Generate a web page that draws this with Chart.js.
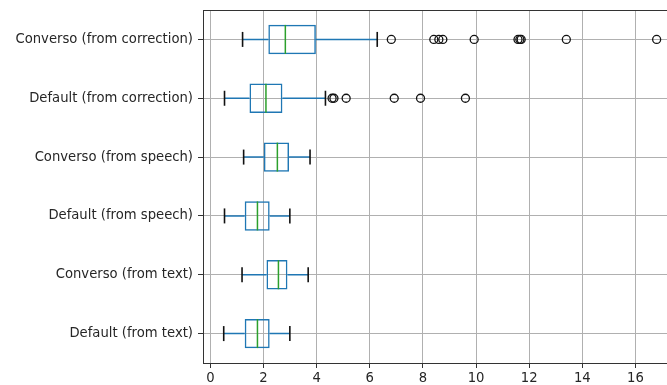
<!DOCTYPE html>
<html>
<head>
<meta charset="utf-8">
<script src="https://cdn.jsdelivr.net/npm/chart.js@4.4.1/dist/chart.umd.min.js"></script>
<style>
  html, body { margin: 0; padding: 0; background: #fff; overflow: hidden; }
  #wrap { width: 684px; height: 385px; }
</style>
</head>
<body>
<div id="wrap"><canvas id="chart"></canvas></div>
<script>
// box statistics, top row first
const categories = [
    'Converso (from correction)',
    'Default (from correction)',
    'Converso (from speech)',
    'Default (from speech)',
    'Converso (from text)',
    'Default (from text)'
];
const whiskerLow  = [1.21, 0.53, 1.25, 0.53, 1.19, 0.50];
const q1          = [2.18, 1.47, 2.01, 1.29, 2.11, 1.29];
const medians     = [2.82, 2.09, 2.52, 1.77, 2.56, 1.77];
const q3          = [3.97, 2.71, 2.96, 2.23, 2.90, 2.23];
const whiskerHigh = [6.28, 4.33, 3.75, 2.99, 3.68, 2.99];
const outliers = [
    [6.81, 8.41, 8.60, 8.75, 9.93, 11.58, 11.65, 11.70, 13.40, 16.80],
    [4.58, 4.65, 5.11, 6.92, 7.91, 9.60],
    [], [], [], []
];
const xTickValues = [0, 2, 4, 6, 8, 10, 12, 14, 16];

const BLUE = '#1f77b4';
const GREEN = '#2ca02c';
const FONT = { family: "'DejaVu Sans', sans-serif", size: 13.2 };

function buildDatasets() {
    const sets = [];

    // boxes (q1 -> q3)
    sets.push({
        type: 'bar',
        data: categories.map((c, i) => [q1[i], q3[i]]),
        backgroundColor: 'transparent',
        borderColor: BLUE,
        borderWidth: 1.5,
        borderSkipped: false,
        barPercentage: 0.5,
        categoryPercentage: 1,
        order: 2
    });

    // whiskers
    categories.forEach((c, i) => {
        [[whiskerLow[i], q1[i]], [q3[i], whiskerHigh[i]]].forEach(seg => {
            sets.push({
                type: 'line',
                indexAxis: 'y',
                data: seg.map(v => ({ x: v, y: c })),
                borderColor: BLUE,
                borderWidth: 1.5,
                pointRadius: 0,
                order: 1
            });
        });
    });

    // caps
    sets.push({
        type: 'scatter',
        indexAxis: 'y',
        data: categories.flatMap((c, i) => [{ x: whiskerLow[i], y: c }, { x: whiskerHigh[i], y: c }]),
        pointStyle: 'line',
        rotation: 90,
        radius: 7.5,
        borderColor: '#111',
        borderWidth: 1.6,
        order: 0
    });

    // medians
    sets.push({
        type: 'scatter',
        indexAxis: 'y',
        data: categories.map((c, i) => ({ x: medians[i], y: c })),
        pointStyle: 'line',
        rotation: 90,
        radius: 14.5,
        borderColor: GREEN,
        borderWidth: 1.5,
        order: 0
    });

    // fliers
    sets.push({
        type: 'scatter',
        indexAxis: 'y',
        data: categories.flatMap((c, i) => outliers[i].map(v => ({ x: v, y: c }))),
        pointStyle: 'circle',
        radius: 4,
        backgroundColor: 'transparent',
        borderColor: '#111',
        borderWidth: 1.3,
        order: 0
    });

    return sets;
}

const ctx = document.getElementById('chart').getContext('2d');
new Chart(ctx, {
    type: 'bar',
    data: {
        labels: categories,
        datasets: buildDatasets()
    },
    options: {
        indexAxis: 'y',
        responsive: true,
        maintainAspectRatio: false,
        animation: false,
        layout: { autoPadding: false, padding: { left: 0, top: 10, right: 0, bottom: 0 } },
        plugins: {
            legend: { display: false },
            tooltip: { enabled: false }
        },
        scales: {
            y: {
                type: 'category',
                offset: true,
                grid: { offset: false, color: '#b0b0b0', lineWidth: 1, tickColor: '#333', tickLength: 5 },
                border: { color: '#333', width: 1 },
                ticks: { color: '#262626', font: FONT, padding: 5 },
                afterFit: s => { s.width = 203; s.paddingTop = 0; s.paddingBottom = 0; }
            },
            x: {
                type: 'linear',
                min: -0.28,
                max: 17.83,
                afterBuildTicks: s => { s.ticks = xTickValues.map(v => ({ value: v })); },
                grid: { color: '#b0b0b0', lineWidth: 1, tickColor: '#333', tickLength: 5 },
                border: { color: '#333', width: 1 },
                ticks: { color: '#262626', font: FONT, padding: 3, maxRotation: 0 },
                afterFit: s => { s.height = 22; }
            },
            xTop: {
                type: 'linear',
                position: 'top',
                min: 0,
                max: 1,
                grid: { display: true, color: 'transparent', drawTicks: false },
                border: { display: true, color: '#333', width: 1 },
                ticks: { display: false },
                afterFit: s => { s.height = 0; s.paddingLeft = 0; s.paddingRight = 0; }
            }
        }
    }
});
</script>
</body>
</html>
